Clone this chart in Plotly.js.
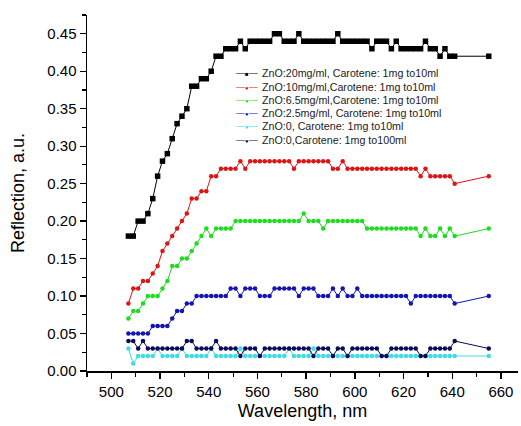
<!DOCTYPE html>
<html>
<head>
<meta charset="utf-8">
<script src="https://cdn.plot.ly/plotly-3.0.1.min.js"></script>
<style>html,body{margin:0;padding:0;background:#fff}#chart{width:521px;height:426px}</style>
</head>
<body>
<div id="chart"></div>
<script>
// Wavelength (nm)
var wavelength = [507,509,511,513,515,517,519,521,523,525,527,529,531,533,535,537,539,541,543,545,547,549,551,553,555,557,559,561,563,565,567,569,571,573,575,577,579,581,583,585,587,589,591,593,595,597,599,601,603,605,607,609,611,613,615,617,619,621,623,625,627,629,631,633,635,637,639,641,655];

var seriesNames = [
  "ZnO:20mg/ml, Carotene: 1mg to10ml",
  "ZnO:10mg/ml,Carotene: 1mg to10ml",
  "ZnO:6.5mg/ml,Carotene: 1mg to10ml",
  "ZnO:2.5mg/ml, Carotene: 1mg to10ml",
  "ZnO:0, Carotene: 1mg to10ml",
  "ZnO:0,Carotene: 1mg to100ml"
];

var zno20 = [0.18,0.18,0.20,0.20,0.21,0.23,0.26,0.28,0.29,0.31,
             0.33,0.34,0.35,0.38,0.38,0.39,0.39,0.40,0.42,0.42,
             0.43,0.43,0.43,0.44,0.43,0.44,0.44,0.44,0.44,0.44,
             0.45,0.45,0.44,0.44,0.44,0.45,0.44,0.44,0.44,0.44,
             0.44,0.44,0.44,0.45,0.44,0.44,0.44,0.44,0.44,0.44,
             0.43,0.44,0.44,0.44,0.43,0.44,0.43,0.43,0.43,0.43,
             0.43,0.44,0.43,0.43,0.42,0.43,0.42,0.42,
             0.42];

var zno10 = [0.09,0.11,0.11,0.12,0.12,0.13,0.14,0.16,0.17,0.18,
             0.19,0.20,0.21,0.23,0.23,0.24,0.24,0.26,0.26,0.27,
             0.27,0.27,0.27,0.28,0.27,0.28,0.28,0.28,0.28,0.28,
             0.28,0.28,0.28,0.28,0.27,0.28,0.28,0.28,0.28,0.28,
             0.28,0.28,0.27,0.27,0.28,0.27,0.27,0.27,0.27,0.27,
             0.27,0.27,0.27,0.27,0.27,0.27,0.27,0.27,0.27,0.27,
             0.26,0.27,0.26,0.26,0.26,0.26,0.26,0.25,
             0.26];

var zno65 = [0.07,0.08,0.08,0.09,0.10,0.10,0.10,0.11,0.12,0.14,
             0.14,0.15,0.15,0.16,0.17,0.18,0.19,0.18,0.19,0.19,
             0.19,0.19,0.20,0.20,0.20,0.20,0.20,0.20,0.20,0.20,
             0.20,0.20,0.20,0.20,0.20,0.20,0.21,0.20,0.20,0.20,
             0.19,0.20,0.20,0.20,0.20,0.20,0.20,0.20,0.20,0.19,
             0.19,0.19,0.19,0.19,0.19,0.19,0.19,0.19,0.19,0.19,
             0.18,0.19,0.18,0.18,0.19,0.18,0.19,0.18,
             0.19];

var zno25 = [0.05,0.05,0.05,0.05,0.05,0.06,0.06,0.06,0.06,0.07,
             0.08,0.08,0.09,0.09,0.10,0.10,0.10,0.10,0.10,0.10,
             0.10,0.11,0.11,0.10,0.11,0.11,0.11,0.10,0.10,0.10,
             0.11,0.11,0.11,0.11,0.11,0.10,0.11,0.11,0.11,0.10,
             0.10,0.10,0.11,0.10,0.11,0.10,0.10,0.11,0.10,0.10,
             0.10,0.10,0.10,0.10,0.10,0.10,0.10,0.10,0.09,0.10,
             0.10,0.10,0.10,0.10,0.10,0.10,0.10,0.09,
             0.10];

var zno0_10 = [0.03,0.01,0.02,0.02,0.02,0.02,0.03,0.02,0.02,0.02,
               0.02,0.03,0.02,0.02,0.02,0.02,0.02,0.03,0.02,0.02,
               0.02,0.02,0.02,0.03,0.02,0.02,0.02,0.02,0.02,0.02,
               0.02,0.02,0.02,0.03,0.02,0.02,0.02,0.02,0.03,0.02,
               0.02,0.02,0.02,0.02,0.02,0.02,0.02,0.02,0.02,0.02,
               0.02,0.02,0.02,0.02,0.02,0.02,0.02,0.02,0.02,0.02,
               0.02,0.02,0.02,0.02,0.02,0.02,0.02,0.02,
               0.02];

var zno0_100 = [0.04,0.04,0.03,0.04,0.03,0.03,0.03,0.03,0.03,0.03,
                0.03,0.03,0.04,0.04,0.03,0.03,0.03,0.03,0.04,0.03,
                0.03,0.03,0.03,0.02,0.03,0.03,0.03,0.02,0.03,0.03,
                0.03,0.03,0.03,0.03,0.03,0.03,0.03,0.03,0.02,0.03,
                0.03,0.03,0.02,0.03,0.03,0.02,0.03,0.03,0.03,0.03,
                0.03,0.03,0.02,0.02,0.03,0.03,0.03,0.03,0.03,0.03,
                0.02,0.02,0.03,0.03,0.03,0.03,0.03,0.04,
                0.03];

var colors = ["#000000", "#DC1616", "#1EDC1E", "#1414B4", "#40DCE2", "#0A0A5A"];
var symbols = ["square", "circle", "circle", "circle", "circle", "circle"];
var legendGlyphs = ["\u25A0", "\u25CF", "\u25CF", "\u25CF", "\u25CF", "\u25CF"];
var allSeries = [zno20, zno10, zno65, zno25, zno0_10, zno0_100];

var traces = allSeries.map(function (ys, i) {
  return {
    x: wavelength,
    y: ys,
    name: seriesNames[i],
    type: "scatter",
    mode: "lines+markers",
    line: {color: colors[i], width: 1},
    marker: {color: colors[i], symbol: symbols[i], size: i === 0 ? 5.5 : 4.5, line: {width: 0}},
    showlegend: false
  };
});

var font = "Arial, 'Liberation Sans', sans-serif";

// custom legend (text annotations), rows 13.3 px apart
var legendTop = 0.836, legendStep = 0.0373;
var annotations = [];
seriesNames.forEach(function (n, i) {
  var yy = legendTop - i * legendStep;
  annotations.push({
    xref: "paper", yref: "paper", x: 0.3701, y: yy,
    xanchor: "center", yanchor: "middle", showarrow: false,
    text: '<span style="font-size:9px">\u2014</span><span style="font-size:6px">' + legendGlyphs[i] + '</span><span style="font-size:9px">\u2014</span>',
    font: {size: 9, family: font, color: colors[i]}
  });
  annotations.push({
    xref: "paper", yref: "paper", x: 0.4007, y: yy,
    xanchor: "left", yanchor: "middle", showarrow: false,
    text: n,
    font: {size: 10.7, family: font, color: "#222"}
  });
});

var layout = {
  width: 521,
  height: 426,
  margin: {l: 87, r: 3, t: 15, b: 55},
  paper_bgcolor: "#ffffff",
  plot_bgcolor: "#ffffff",
  font: {family: font, color: "#000000"},
  showlegend: false,
  xaxis: {
    range: [490, 667],
    tick0: 500,
    dtick: 20,
    ticks: "outside",
    ticklen: 6,
    tickwidth: 1.3,
    tickcolor: "#000",
    showline: true,
    linecolor: "#000",
    linewidth: 1.5,
    showgrid: false,
    zeroline: false,
    tickfont: {size: 15, family: font, color: "#000"},
    minor: {dtick: 10, ticks: "outside", ticklen: 4, tickwidth: 1.2, tickcolor: "#000", showgrid: false},
    title: {text: "Wavelength, nm", font: {size: 18, family: font, color: "#000"}, standoff: 6}
  },
  yaxis: {
    range: [0, 0.475],
    tick0: 0,
    dtick: 0.05,
    tickformat: ".2f",
    ticks: "outside",
    ticklen: 6,
    tickwidth: 1.3,
    tickcolor: "#000",
    showline: true,
    linecolor: "#000",
    linewidth: 1.5,
    showgrid: false,
    zeroline: false,
    tickfont: {size: 15, family: font, color: "#000"},
    minor: {dtick: 0.025, ticks: "outside", ticklen: 4, tickwidth: 1.2, tickcolor: "#000", showgrid: false},
    title: {text: "Reflection, a.u.", font: {size: 18, family: font, color: "#000"}, standoff: 18}
  },
  annotations: annotations
};

Plotly.newPlot("chart", traces, layout, {displayModeBar: false, staticPlot: true});
</script>
</body>
</html>
